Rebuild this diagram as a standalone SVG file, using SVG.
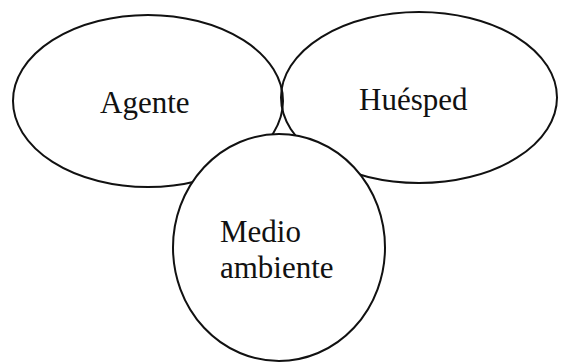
<svg xmlns="http://www.w3.org/2000/svg" width="561" height="362" viewBox="0 0 561 362">
<style>
.n{fill:none;stroke:#111;stroke-width:2}
.m{fill:#fff;stroke:#111;stroke-width:2}
.t{font-family:"Liberation Serif","Times New Roman",serif;font-size:31px;fill:#111}
</style>
<rect width="561" height="362" fill="#fff"/>
<g id="agente"><ellipse class="n" cx="148" cy="101" rx="135" ry="86"/><text class="t" x="100" y="113">Agente</text></g>
<g id="huesped"><ellipse class="n" cx="419" cy="97.5" rx="138" ry="85.5"/><text class="t" x="359" y="110">Huésped</text></g>
<g id="medio"><ellipse class="m" cx="279" cy="247.5" rx="106" ry="113.5"/><text class="t" x="220" y="242">Medio</text><text class="t" x="220" y="278">ambiente</text></g>
<g id="connectors"/>
</svg>
